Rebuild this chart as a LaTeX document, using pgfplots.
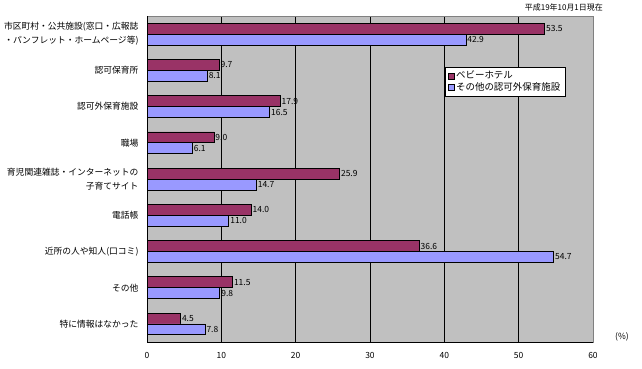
\documentclass[border=0pt]{standalone}
\usepackage{fontspec}
\setmainfont{Noto Sans CJK JP}
\usepackage{pgfplots}
\pgfplotsset{compat=1.18}
\definecolor{maroonbar}{HTML}{993366}
\definecolor{lavbar}{HTML}{9999FF}
\definecolor{plotbg}{HTML}{C0C0C0}
\begin{document}
\begin{tikzpicture}
\useasboundingbox (0bp,0bp) rectangle (642bp,369bp);
\node[anchor=east,font=\fontsize{8}{9}\selectfont,inner sep=0pt] at (603bp,362bp) {平成19年10月1日現在};
\begin{axis}[
  at={(147bp,27bp)}, anchor=south west,
  scale only axis, width=446bp, height=326bp,
  xbar, bar width=0.3,
  xmin=0, xmax=60, ymin=-0.5, ymax=8.5, y dir=reverse,
  xtick={0,10,...,60}, ytick={0,...,8},
  yticklabels={{市区町村・公共施設(窓口・広報誌\\・パンフレット・ホームページ等)},{認可保育所},{認可外保育施設},{職場},{育児関連雑誌・インターネットの\\子育てサイト},{電話帳},{近所の人や知人(口コミ)},{その他},{特に情報はなかった}},
  yticklabel style={align=right, font=\fontsize{8.8}{14}\selectfont, xshift=-5bp},
  xticklabel style={font=\fontsize{8.5}{9}\selectfont, yshift=-7bp},
  /pgf/number format/assume math mode=true,
  major tick length=0pt,
  xmajorgrids, major grid style={black, line width=0.7bp},
  axis background/.style={fill=plotbg},
  axis line style={black!50, line width=0.7bp},
  clip=false,
  point meta=x,
  nodes near coords={\pgfmathprintnumber[fixed,fixed zerofill,precision=1]{\pgfplotspointmeta}},
  nodes near coords style={font=\fontsize{8.5}{9}\selectfont, inner sep=1.2bp, black},
  legend style={at={(0.668,0.8436)}, anchor=north west, draw=black, fill=white,
    font=\fontsize{9.5}{11}\selectfont, inner xsep=2.5bp, inner ysep=2bp, row sep=-1.5bp, legend cell align=left},
  legend image code/.code={\draw[#1,draw=black,line width=0.5bp] (0bp,-3bp) rectangle (6bp,3bp);},
]
\addplot[fill=maroonbar, draw=black, line width=0.7bp, bar shift=-0.15] coordinates {
(53.5,0) (9.7,1) (17.9,2) (9.0,3) (25.9,4) (14.0,5) (36.6,6) (11.5,7) (4.5,8)};
\addlegendentry{ベビーホテル}
\addplot[fill=lavbar, draw=black, line width=0.7bp, bar shift=0.15] coordinates {
(42.9,0) (8.1,1) (16.5,2) (6.1,3) (14.7,4) (11.0,5) (54.7,6) (9.8,7) (7.8,8)};
\addlegendentry{その他の認可外保育施設}
\draw[black, line width=0.8bp] (axis description cs:0,1) -- (axis description cs:0,0) -- (axis description cs:1,0);
\node[font=\fontsize{8.5}{9}\selectfont] at (axis description cs:1.065,0.015) {(\%)};
\end{axis}
\end{tikzpicture}
\end{document}
